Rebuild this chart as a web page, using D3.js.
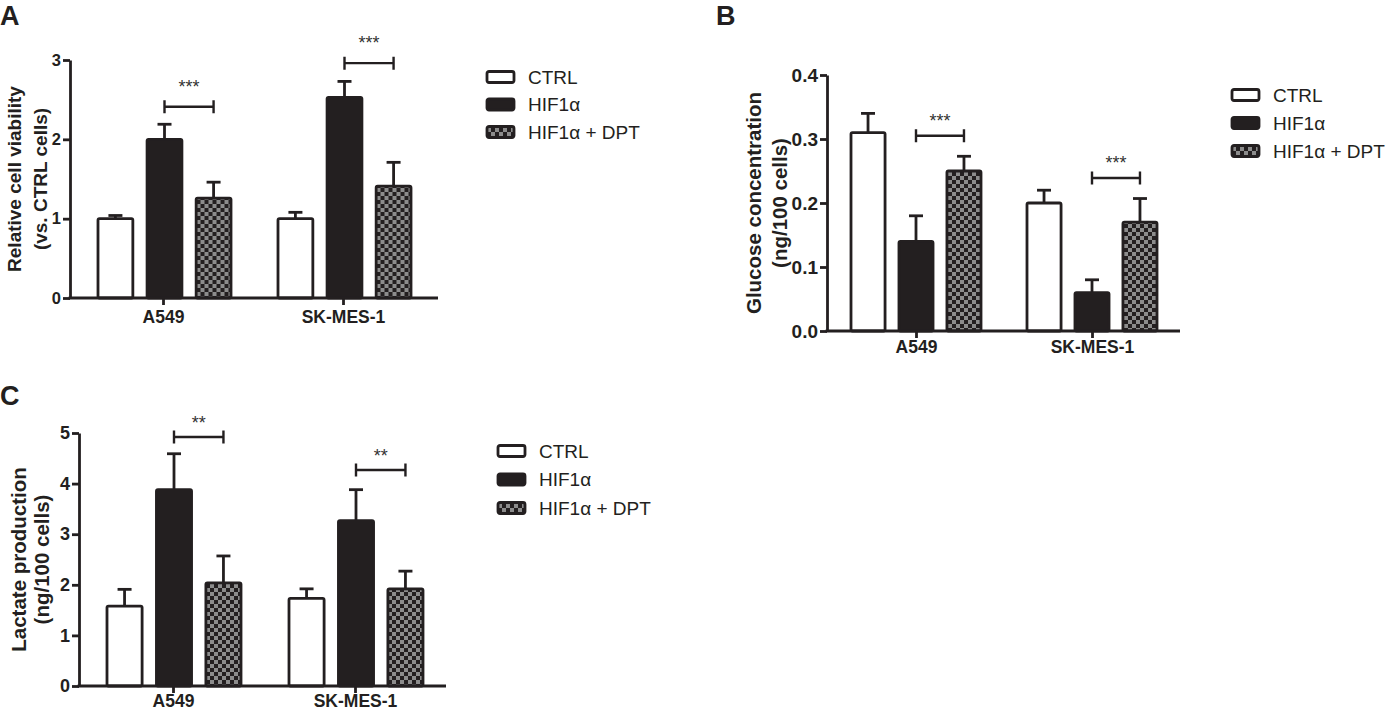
<!DOCTYPE html>
<html>
<head>
<meta charset="utf-8">
<script src="https://cdn.jsdelivr.net/npm/d3@7"></script>
<style>
  body { margin: 0; background: #fff; }
  svg { display: block; font-family: "Liberation Sans", Arial, sans-serif; }
</style>
</head>
<body>
<div class="canvas"></div>
<script>
// chart data
const groups = ['A549', 'SK-MES-1'];
const series = ['CTRL', 'HIF1α', 'HIF1α + DPT'];

const viabilityMean = [[1.0, 2.0, 1.26], [1.0, 2.53, 1.41]];
const viabilityErr  = [[0.04, 0.19, 0.20], [0.08, 0.20, 0.30]];
const viabilitySig  = [['A549', 2.41, '***'], ['SK-MES-1', 2.96, '***']];
const viabilityTicks = [0, 1, 2, 3];

const glucoseMean = [[0.31, 0.14, 0.25], [0.20, 0.06, 0.17]];
const glucoseErr  = [[0.03, 0.04, 0.023], [0.02, 0.02, 0.037]];
const glucoseSig  = [['A549', 0.305, '***'], ['SK-MES-1', 0.239, '***']];
const glucoseTicks = [0, 0.1, 0.2, 0.3, 0.4];

const lactateMean = [[1.58, 3.88, 2.04], [1.73, 3.27, 1.92]];
const lactateErr  = [[0.33, 0.71, 0.53], [0.19, 0.61, 0.35]];
const lactateSig  = [['A549', 4.92, '**'], ['SK-MES-1', 4.27, '**']];
const lactateTicks = [0, 1, 2, 3, 4, 5];

const ink = '#231f20';

const svg = d3.select('.canvas')
  .append('svg')
    .attr('width', 1388)
    .attr('height', 714);

// checker pattern for the DPT bars
const pat = svg.append('defs').append('pattern')
  .attr('id', 'checker')
  .attr('patternUnits', 'userSpaceOnUse')
  .attr('width', 8)
  .attr('height', 8);
pat.append('rect').attr('width', 8).attr('height', 8).attr('fill', '#8c8c8c');
pat.append('rect').attr('width', 4).attr('height', 4).attr('fill', ink);
pat.append('rect').attr('x', 4).attr('y', 4).attr('width', 4).attr('height', 4).attr('fill', ink);

const fills = ['#fff', ink, 'url(#checker)'];

const drawPanel = (cfg, means, errs, sigs, ticks) => {

  const g = svg.append('g');

  g.append('text')
    .attr('x', cfg.letter[1])
    .attr('y', cfg.letter[2])
    .attr('font-size', 27)
    .attr('font-weight', 'bold')
    .attr('fill', ink)
    .text(cfg.letter[0]);

  const y = d3.scaleLinear()
    .domain([0, ticks[ticks.length - 1]])
    .range([cfg.base, cfg.top]);

  const x0 = d3.scalePoint()
    .domain(groups)
    .range(cfg.centers);

  const x1 = d3.scaleBand()
    .domain(series)
    .range([-cfg.inner, cfg.inner])
    .paddingInner(0.29);

  // bars
  groups.forEach((grp, gi) => {
    const cg = g.append('g')
      .attr('transform', `translate(${x0(grp) + cfg.shift}, 0)`);

    const rows = series.map((s, si) => ({s, si, v: means[gi][si], e: errs[gi][si]}));

    // error bars (upper only)
    cg.selectAll('line.err')
      .data(rows)
      .enter()
      .append('line')
        .attr('x1', d => x1(d.s) + x1.bandwidth() / 2)
        .attr('x2', d => x1(d.s) + x1.bandwidth() / 2)
        .attr('y1', d => y(d.v))
        .attr('y2', d => y(d.v + d.e))
        .attr('stroke', ink)
        .attr('stroke-width', 2.8);

    cg.selectAll('line.cap')
      .data(rows)
      .enter()
      .append('line')
        .attr('x1', d => x1(d.s) + x1.bandwidth() / 2 - 7)
        .attr('x2', d => x1(d.s) + x1.bandwidth() / 2 + 7)
        .attr('y1', d => y(d.v + d.e))
        .attr('y2', d => y(d.v + d.e))
        .attr('stroke', ink)
        .attr('stroke-width', 2.8);

    cg.selectAll('rect')
      .data(rows)
      .enter()
      .append('rect')
        .attr('x', d => x1(d.s))
        .attr('y', d => y(d.v))
        .attr('width', x1.bandwidth())
        .attr('height', d => cfg.base - y(d.v))
        .attr('rx', 1.5)
        .attr('fill', d => fills[d.si])
        .attr('stroke', ink)
        .attr('stroke-width', 2.8);
  });

  // significance brackets
  sigs.forEach(([grp, lvl, lab]) => {
    const xa = x0(grp) + cfg.shift + x1(series[1]) + x1.bandwidth() / 2;
    const xb = x0(grp) + cfg.shift + x1(series[2]) + x1.bandwidth() / 2;
    const yy = y(lvl);
    g.append('path')
      .attr('d', `M${xa},${yy - 6.5}V${yy + 6.5}M${xa},${yy}H${xb}M${xb},${yy - 6.5}V${yy + 6.5}`)
      .attr('fill', 'none')
      .attr('stroke', ink)
      .attr('stroke-width', 2.4);
    g.append('text')
      .attr('x', (xa + xb) / 2)
      .attr('y', yy - cfg.starGap)
      .attr('text-anchor', 'middle')
      .attr('font-size', 18)
      .attr('fill', '#333')
      .text(lab);
  });

  // axes
  const yAxis = d3.axisLeft(y)
    .tickValues(ticks)
    .tickFormat(cfg.fmt)
    .tickSize(7)
    .tickSizeOuter(0)
    .tickPadding(2);

  const yAxisGroup = g.append('g')
    .attr('transform', `translate(${cfg.axisX}, 0)`)
    .call(yAxis);
  yAxisGroup.selectAll('path, line').attr('stroke', ink).attr('stroke-width', 2.8);
  yAxisGroup.selectAll('text')
    .attr('font-size', cfg.tickFont)
    .attr('font-weight', 'bold')
    .attr('font-family', '"Liberation Sans", Arial, sans-serif')
    .attr('fill', ink);

  g.append('line')
    .attr('x1', cfg.axisX - 1.4)
    .attr('x2', cfg.axisRight)
    .attr('y1', cfg.base)
    .attr('y2', cfg.base)
    .attr('stroke', ink)
    .attr('stroke-width', 2.8);

  const xAxis = d3.axisBottom(x0)
    .tickSize(7)
    .tickSizeOuter(0)
    .tickPadding(cfg.catPad);

  const xAxisGroup = g.append('g')
    .attr('transform', `translate(0, ${cfg.base})`)
    .call(xAxis);
  xAxisGroup.select('.domain').remove();
  xAxisGroup.selectAll('line').attr('stroke', ink).attr('stroke-width', 2.8);
  xAxisGroup.selectAll('text')
    .attr('font-size', 17.5)
    .attr('font-weight', 'bold')
    .attr('font-family', '"Liberation Sans", Arial, sans-serif')
    .attr('fill', ink);

  // y label, two lines
  const cy = (cfg.top + cfg.base) / 2;
  cfg.ylab.forEach((txt, i) => {
    g.append('text')
      .attr('transform', `translate(${cfg.ylabX[i]}, ${cy}) rotate(-90)`)
      .attr('dy', '0.35em')
      .attr('text-anchor', 'middle')
      .attr('font-size', cfg.labFont)
      .attr('font-weight', 'bold')
      .attr('fill', ink)
      .text(txt);
  });

  // legend
  const leg = g.append('g')
    .attr('transform', `translate(${cfg.legend[0]}, ${cfg.legend[1]})`);
  series.forEach((s, si) => {
    const row = leg.append('g').attr('transform', `translate(0, ${si * cfg.legend[2]})`);
    row.append('rect')
      .attr('x', 0)
      .attr('y', -5.5)
      .attr('width', 27)
      .attr('height', 11)
      .attr('rx', 2)
      .attr('fill', fills[si])
      .attr('stroke', ink)
      .attr('stroke-width', 2.8);
    row.append('text')
      .attr('x', 41)
      .attr('dy', '0.36em')
      .attr('font-size', 19)
      .attr('fill', ink)
      .text(s);
  });
};

drawPanel({
  letter: ['A', 0, 25], top: 60, base: 298, axisX: 70, axisRight: 438,
  centers: [163, 343], inner: 66.5, shift: 1.5, starGap: 14, fmt: d3.format('d'),
  tickFont: 16.5, labFont: 19, catPad: 6,
  ylab: ['Relative cell viability', '(vs. CTRL cells)'], ylabX: [14, 40],
  legend: [487, 77, 27.5]
}, viabilityMean, viabilityErr, viabilitySig, viabilityTicks);

drawPanel({
  letter: ['B', 716, 25], top: 75, base: 331, axisX: 827, axisRight: 1180,
  centers: [916, 1092], inner: 65, shift: 0, starGap: 9, fmt: d3.format('.1f'),
  tickFont: 19, labFont: 20.5, catPad: 3,
  ylab: ['Glucose concentration', '(ng/100 cells)'], ylabX: [754, 780],
  legend: [1232, 95, 28]
}, glucoseMean, glucoseErr, glucoseSig, glucoseTicks);

drawPanel({
  letter: ['C', 0, 405], top: 433, base: 686, axisX: 79, axisRight: 446,
  centers: [173, 355], inner: 67, shift: 1, starGap: 8, fmt: d3.format('d'),
  tickFont: 18, labFont: 20.5, catPad: 2,
  ylab: ['Lactate production', '(ng/100 cells)'], ylabX: [19, 42],
  legend: [498, 451, 28.5]
}, lactateMean, lactateErr, lactateSig, lactateTicks);
</script>
</body>
</html>
